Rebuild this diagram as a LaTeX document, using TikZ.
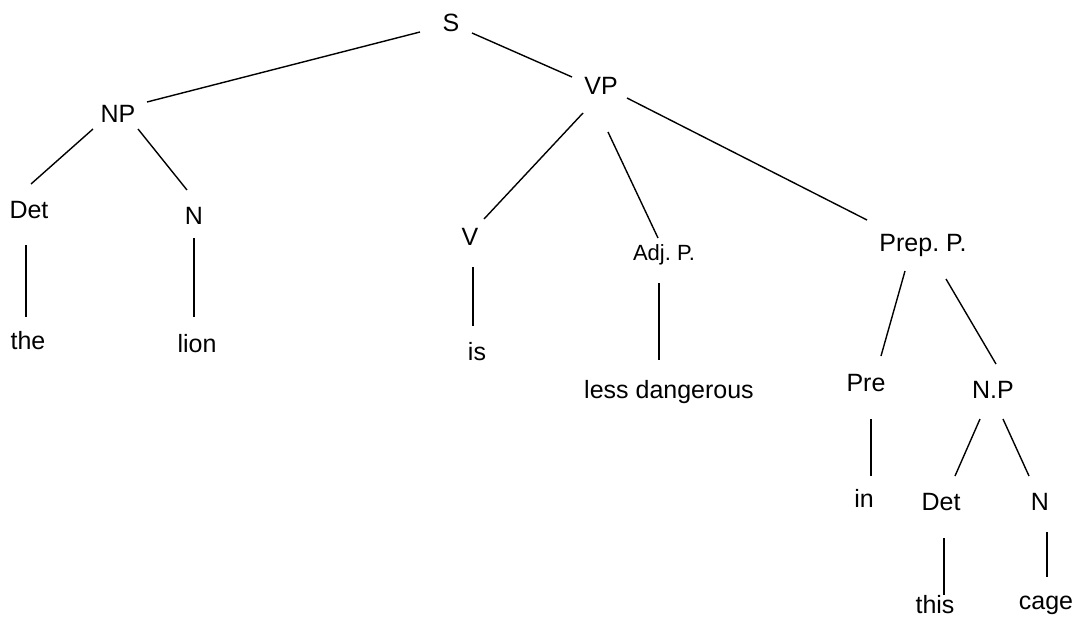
\documentclass[tikz,border=0pt]{standalone}
\usepackage{fontspec}
\setmainfont{Liberation Sans}
\frenchspacing
\begin{document}
\begin{tikzpicture}[x=1pt,y=-1pt,
  lbl/.style={anchor=base,inner sep=0pt,font=\fontsize{25}{29}\selectfont},
  small/.style={anchor=base,inner sep=0pt,font=\fontsize{22}{26}\selectfont},
  edge/.style={line width=1.4pt,black}]
\useasboundingbox (0,0) rectangle (1076,627);
% nodes (placed by baseline)
\node[lbl] (S) at (451,31) {S};
\node[lbl] (NP) at (118,122) {NP};
\node[lbl] (VP) at (601,94) {VP};
\node[lbl] (Det) at (29,218) {Det};
\node[lbl] (N) at (194,224) {N};
\node[lbl] (V) at (470,245) {V};
\node[small] (Adj) at (664,260) {Adj. P.};
\node[lbl] (PrepP) at (923,251) {Prep. P.};
\node[lbl] (the) at (28,349) {the};
\node[lbl] (lion) at (197,352) {lion};
\node[lbl] (is) at (477,360) {is};
\node[lbl] (less) at (669,398) {less dangerous};
\node[lbl] (Pre) at (866,391) {Pre};
\node[lbl] (NPb) at (993,398) {N.P};
\node[lbl] (in) at (864,507) {in};
\node[lbl] (Detb) at (941,510) {Det};
\node[lbl] (Nb) at (1040,510) {N};
\node[lbl] (this) at (935,613) {this};
\node[lbl] (cage) at (1046,609) {cage};
% connectors
\draw[edge] ([shift={(-31,1)}]S.base) -- ([shift={(29,-20)}]NP.base);
\draw[edge] ([shift={(21,2)}]S.base) -- ([shift={(-29,-17)}]VP.base);
\draw[edge] ([shift={(-25,7)}]NP.base) -- ([shift={(2,-34)}]Det.base);
\draw[edge] ([shift={(20,7)}]NP.base) -- ([shift={(-7,-34)}]N.base);
\draw[edge] ([shift={(-3,27)}]Det.base) -- ([shift={(-2,-32)}]the.base);
\draw[edge] ([shift={(0,14)}]N.base) -- ([shift={(-3,-35)}]lion.base);
\draw[edge] ([shift={(-18,19)}]VP.base) -- ([shift={(14,-26)}]V.base);
\draw[edge] ([shift={(7,38)}]VP.base) -- ([shift={(-6,-22)}]Adj.base);
\draw[edge] ([shift={(26,4)}]VP.base) -- ([shift={(-56,-31)}]PrepP.base);
\draw[edge] ([shift={(3,22)}]V.base) -- ([shift={(-4,-34)}]is.base);
\draw[edge] ([shift={(-5,23)}]Adj.base) -- ([shift={(-10,-38)}]less.base);
\draw[edge] ([shift={(-18,20)}]PrepP.base) -- ([shift={(15,-35)}]Pre.base);
\draw[edge] ([shift={(23,28)}]PrepP.base) -- ([shift={(3,-34)}]NPb.base);
\draw[edge] ([shift={(5,28)}]Pre.base) -- ([shift={(7,-31)}]in.base);
\draw[edge] ([shift={(-13,21)}]NPb.base) -- ([shift={(14,-34)}]Detb.base);
\draw[edge] ([shift={(10,21)}]NPb.base) -- ([shift={(-11,-34)}]Nb.base);
\draw[edge] ([shift={(3,28)}]Detb.base) -- ([shift={(9,-18)}]this.base);
\draw[edge] ([shift={(7,22)}]Nb.base) -- ([shift={(1,-32)}]cage.base);
\end{tikzpicture}
\end{document}
